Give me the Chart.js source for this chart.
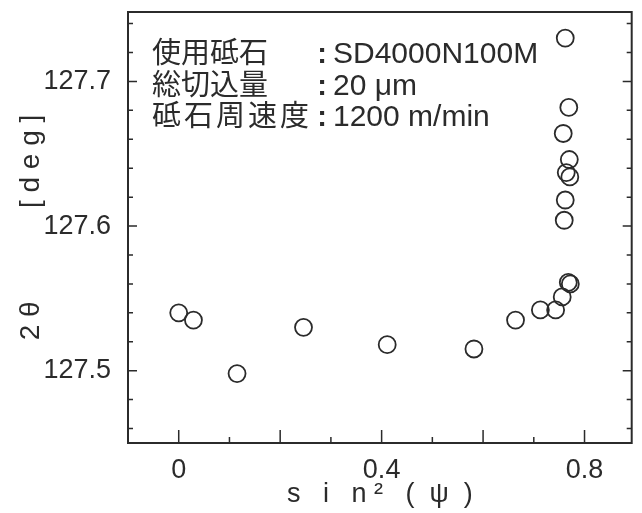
<!DOCTYPE html>
<html>
<head>
<meta charset="utf-8">
<script src="https://cdn.jsdelivr.net/npm/chart.js@4.4.0/dist/chart.umd.min.js"></script>
<style>
  html, body { margin: 0; padding: 0; background: #fff; }
  canvas { display: block; }
</style>
</head>
<body>
<canvas id="chart" width="642" height="513"></canvas>
<script>
/* ── DATA ───────────────────────────────────────── */
const sin2psi = [0.000, 0.029, 0.115, 0.246, 0.411, 0.582, 0.664, 0.713, 0.743, 0.756,
                 0.768, 0.772, 0.762, 0.769, 0.758, 0.770, 0.764, 0.771, 0.762, 0.760];
const twoTheta = [127.540, 127.535, 127.498, 127.530, 127.518, 127.515, 127.535, 127.542, 127.542, 127.551,
                  127.561, 127.560, 127.730, 127.682, 127.664, 127.646, 127.637, 127.634, 127.618, 127.604];
const xTicks = [0, 0.4, 0.8];
const yTicks = [127.5, 127.6, 127.7];
const noteLabels = ['使用砥石', '総切込量', '砥石周速度'];
const noteValues = ['SD4000N100M', '20 μm', '1200 m/min'];

const INK = '#2b2b2b';
const FONT = '"Liberation Sans", "Noto Sans CJK JP", sans-serif';

// frame, inward tick marks and the condition note
const framePlugin = {
    id: 'frame',
    afterDraw(chart) {
        const { ctx, chartArea: a, scales: { x, y } } = chart;
        ctx.save();
        ctx.strokeStyle = INK;
        ctx.lineWidth = 2;
        ctx.strokeRect(a.left, a.top, a.right - a.left, a.bottom - a.top);

        ctx.lineWidth = 1.5;
        ctx.beginPath();
        // y ticks every 0.02, major every 0.1 (left and right)
        for (let i = 0; i <= 15; i++) {
            const v = 127.46 + i * 0.02;
            if (v > y.max) break;
            const py = y.getPixelForValue(v);
            const major = Math.abs((v * 10) - Math.round(v * 10)) < 1e-6;
            const len = major ? 9 : 5;
            ctx.moveTo(a.left, py); ctx.lineTo(a.left + len, py);
            ctx.moveTo(a.right, py); ctx.lineTo(a.right - len, py);
        }
        // x ticks every 0.1, major every 0.2
        for (let i = 0; i <= 8; i++) {
            const px = x.getPixelForValue(i * 0.1);
            const len = i % 2 === 0 ? 13 : 6;
            ctx.moveTo(px, a.bottom); ctx.lineTo(px, a.bottom - len);
        }
        ctx.stroke();

        // note block
        ctx.fillStyle = INK;
        ctx.textBaseline = 'middle';
        noteLabels.forEach((t, i) => {
            const ty = a.top + 43 + i * 31.5;
            ctx.font = '29px ' + FONT;
            ctx.textAlign = 'left';
            // last label is spread a little wider in the original
            ctx.letterSpacing = t.length > 4 ? '3px' : '0px';
            ctx.fillText(t, a.left + 24, ty);
            ctx.letterSpacing = '0px';
            ctx.textAlign = 'center';
            ctx.font = 'bold 29px ' + FONT;
            ctx.fillText(':', a.left + 194, ty);
            ctx.textAlign = 'left';
            ctx.font = '30px ' + FONT;
            ctx.fillText(noteValues[i], a.left + 205, ty);
        });
        ctx.restore();
    }
};

new Chart(document.getElementById('chart'), {
    type: 'scatter',
    data: {
        datasets: [{
            data: sin2psi.map((v, i) => ({ x: v, y: twoTheta[i] })),
            pointRadius: 8.5,
            pointHoverRadius: 8.5,
            pointBorderWidth: 1.8,
            borderColor: INK,
            backgroundColor: 'rgba(0,0,0,0)'
        }]
    },
    options: {
        responsive: false,
        animation: false,
        layout: { padding: { top: 12, right: 10, left: 0, bottom: 0 } },
        plugins: { legend: { display: false }, tooltip: { enabled: false } },
        scales: {
            x: {
                type: 'linear',
                min: -0.1,
                max: 0.893,
                afterBuildTicks: s => { s.ticks = xTicks.map(v => ({ value: v })); },
                afterFit: s => { s.height = 70; s.paddingLeft = 0; s.paddingRight = 0; },
                grid: { display: false },
                border: { display: false },
                ticks: {
                    color: INK,
                    font: { family: FONT, size: 27 },
                    padding: 3,
                    callback: v => v === 0 ? '0' : String(v)
                },
                title: {
                    display: true,
                    text: 's   i   n ²   (  ψ  )',
                    color: INK,
                    font: { family: FONT, size: 27 },
                    padding: { top: 0, bottom: 2 }
                }
            },
            y: {
                min: 127.45,
                max: 127.748,
                afterBuildTicks: s => { s.ticks = yTicks.map(v => ({ value: v })); },
                afterFit: s => { s.width = 128; s.paddingTop = 0; s.paddingBottom = 0; },
                grid: { display: false },
                border: { display: false },
                ticks: {
                    color: INK,
                    font: { family: FONT, size: 27 },
                    padding: 9,
                    callback: v => v.toFixed(1)
                },
                title: {
                    display: true,
                    text: '2 θ            [ d e g ]',
                    color: INK,
                    font: { family: FONT, size: 28 },
                    padding: { top: 14, bottom: 0 }
                }
            }
        }
    },
    plugins: [framePlugin]
});
</script>
</body>
</html>
